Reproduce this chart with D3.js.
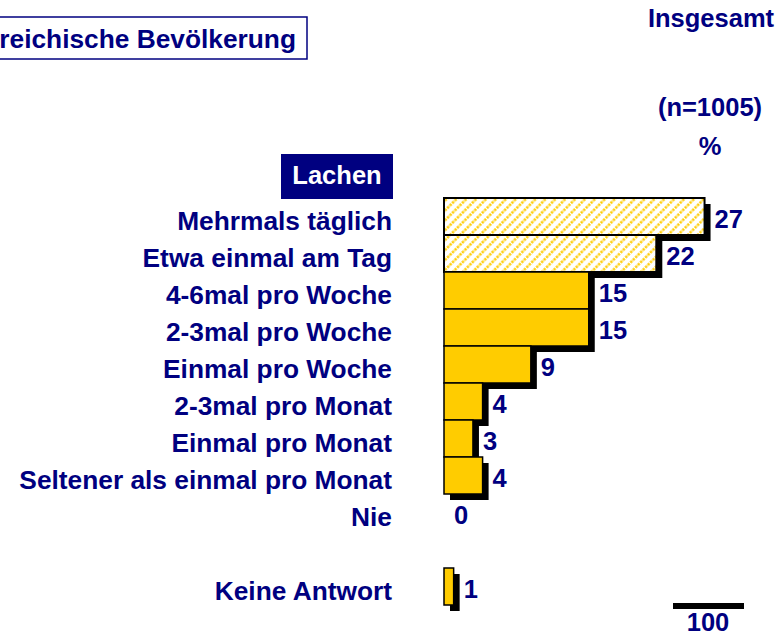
<!DOCTYPE html>
<html>
<head>
<meta charset="utf-8">
<script src="https://cdn.jsdelivr.net/npm/d3@7"></script>
<style>
  body { margin: 0; background: #fff; }
  svg text { font-family: "Liberation Sans", Arial, sans-serif; font-weight: bold; }
</style>
</head>
<body>
<script>
// data
const categories = ["Mehrmals täglich", "Etwa einmal am Tag", "4-6mal pro Woche", "2-3mal pro Woche",
    "Einmal pro Woche", "2-3mal pro Monat", "Einmal pro Monat", "Seltener als einmal pro Monat", "Nie",
    "", "Keine Antwort"]
const values = [27, 22, 15, 15, 9, 4, 3, 4, 0, null, 1]
const hatched = [true, true, false, false, false, false, false, false, false, false, false]

const title = "Österreichische Bevölkerung"
const columnHead = ["Insgesamt", "(n=1005)", "%"]
const groupLabel = "Lachen"
const baseLabel = "100"

const navy = "#000080"
const yellow = "#ffcc00"
const fs = 26.3
const width = 778, height = 638

const rows = categories.map((c, i) => ({ key: i, label: c, value: values[i], hatched: hatched[i] }))

const x = d3.scaleLinear().domain([0, 100]).range([444, 444 + 965])
const y = d3.scaleBand().domain(rows.map(d => d.key)).range([198, 198 + 37 * rows.length]).padding(0)

const svg = d3.select("body").append("svg")
    .attr("width", width)
    .attr("height", height)

// diagonal dotted hatch
const defs = svg.append("defs")
const pat = defs.append("pattern")
    .attr("id", "hatch")
    .attr("patternUnits", "userSpaceOnUse")
    .attr("width", 7)
    .attr("height", 7)
    .attr("patternTransform", "rotate(45)")
pat.append("rect").attr("width", 7).attr("height", 7).attr("fill", "#fff")
pat.append("line")
    .attr("x1", 1.5).attr("y1", 0).attr("x2", 1.5).attr("y2", 7)
    .attr("stroke", yellow)
    .attr("stroke-width", 2.4)
    .attr("stroke-dasharray", "2.5,1")

// title box (cut off at the left edge, as in the source)
svg.append("rect")
    .attr("x", -60).attr("y", 17)
    .attr("width", 367).attr("height", 42)
    .attr("fill", "none")
    .attr("stroke", navy)
    .attr("stroke-width", 1.5)
svg.append("text")
    .attr("x", 296).attr("y", 48)
    .attr("text-anchor", "end")
    .attr("font-size", fs)
    .attr("fill", navy)
    .text(title)

// column header
svg.append("text").attr("x", 711).attr("y", 27).attr("text-anchor", "middle")
    .attr("font-size", 25.5).attr("fill", navy).text(columnHead[0])
svg.append("text").attr("x", 710).attr("y", 116).attr("text-anchor", "middle")
    .attr("font-size", 25.5).attr("fill", navy).text(columnHead[1])
svg.append("text").attr("x", 710).attr("y", 155).attr("text-anchor", "middle")
    .attr("font-size", 25.5).attr("fill", navy).text(columnHead[2])

// group label
svg.append("rect")
    .attr("x", 281).attr("y", 154)
    .attr("width", 112).attr("height", 45)
    .attr("fill", navy)
svg.append("text")
    .attr("x", 337).attr("y", 184)
    .attr("text-anchor", "middle")
    .attr("font-size", 25.5)
    .attr("fill", "#fff")
    .text(groupLabel)

// category labels
svg.append("g").selectAll("text")
    .data(rows.filter(d => d.label))
    .join("text")
    .attr("x", 392)
    .attr("y", d => y(d.key) + y.bandwidth() / 2 + 13)
    .attr("text-anchor", "end")
    .attr("font-size", fs)
    .attr("fill", navy)
    .text(d => d.label)

const barRows = rows.filter(d => d.value > 0)

// shadows
svg.append("g").selectAll("rect")
    .data(barRows)
    .join("rect")
    .attr("x", x(0) + 6)
    .attr("y", d => y(d.key) + 6)
    .attr("width", d => x(d.value) - x(0))
    .attr("height", y.bandwidth())
    .attr("fill", "#000")

// bars
svg.append("g").selectAll("rect")
    .data(barRows)
    .join("rect")
    .attr("x", x(0))
    .attr("y", d => y(d.key))
    .attr("width", d => x(d.value) - x(0))
    .attr("height", y.bandwidth())
    .attr("fill", d => d.hatched ? "url(#hatch)" : yellow)
    .attr("stroke", "#000")
    .attr("stroke-width", d => d.hatched ? 2 : 1.5)

// value labels
svg.append("g").selectAll("text")
    .data(rows.filter(d => d.value !== null))
    .join("text")
    .attr("x", d => x(d.value) + 10)
    .attr("y", d => y(d.key) + y.bandwidth() / 2 + 11)
    .attr("font-size", 25.5)
    .attr("fill", navy)
    .text(d => d.value)

// base marker
svg.append("rect")
    .attr("x", 673).attr("y", 603)
    .attr("width", 71).attr("height", 6)
    .attr("fill", "#000")
svg.append("text")
    .attr("x", 708).attr("y", 631)
    .attr("text-anchor", "middle")
    .attr("font-size", 25.5)
    .attr("fill", navy)
    .text(baseLabel)
</script>
</body>
</html>
